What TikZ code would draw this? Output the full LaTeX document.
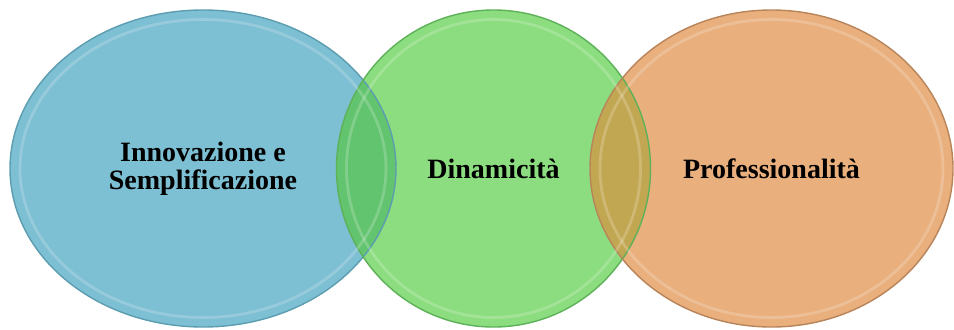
\documentclass[tikz,border=0pt]{standalone}
\usepackage{fontspec}
\setmainfont{Liberation Serif}
\usepackage{tikz}
\definecolor{skyset}{HTML}{7DBFD3}
\definecolor{skyrim}{HTML}{5C9DB0}
\definecolor{leafset}{HTML}{8CDD7F}
\definecolor{leafrim}{HTML}{5DB158}
\definecolor{peachset}{HTML}{E9AF7D}
\definecolor{peachrim}{HTML}{B8845A}
\definecolor{leafsky}{HTML}{62C46E}
\definecolor{olivelens}{HTML}{C2A752}
\tikzset{fig/.style={line join=round},
  blob/.style={line width=0.7pt},
  gloss/.style={white,opacity=0.2,line width=1.4pt},
  word/.style={font=\fontsize{14}{14}\selectfont\bfseries,align=center,text=black}}

\begin{document}
\begin{tikzpicture}[fig,x=0.5pt,y=0.5pt]
  \useasboundingbox (0,0) rectangle (954,329);
  \coordinate (cb) at (203,160.5);
  \coordinate (cg) at (493.5,160.5);
  \coordinate (co) at (771.5,160.5);
  % the three sets
  \fill[skyset] (cb) ellipse [x radius=193,y radius=158.5];
  \fill[leafset] (cg) ellipse [x radius=157,y radius=158.5];
  \fill[peachset] (co) ellipse [x radius=181.5,y radius=158.5];
  % overlaps
  \begin{scope}
    \clip (cb) ellipse [x radius=193,y radius=158.5];
    \fill[leafsky] (cg) ellipse [x radius=157,y radius=158.5];
  \end{scope}
  \begin{scope}
    \clip (cg) ellipse [x radius=157,y radius=158.5];
    \fill[olivelens] (co) ellipse [x radius=181.5,y radius=158.5];
  \end{scope}
  % rims and gloss
  \draw[skyrim,blob] (cb) ellipse [x radius=193,y radius=158.5];
  \draw[leafrim,blob] (cg) ellipse [x radius=157,y radius=158.5];
  \draw[peachrim,blob] (co) ellipse [x radius=181.5,y radius=158.5];
  \draw[gloss] (cb) ellipse [x radius=183,y radius=149];
  \draw[gloss] (cg) ellipse [x radius=147,y radius=149];
  \draw[gloss] (co) ellipse [x radius=171.5,y radius=149];
  % labels
  \node[word] (innov) at (cb) {Innovazione e\\Semplificazione};
  \node[word] (dinam) at (cg) {Dinamicità};
  \node[word] (profe) at (co) {Professionalità};
\end{tikzpicture}
\end{document}
